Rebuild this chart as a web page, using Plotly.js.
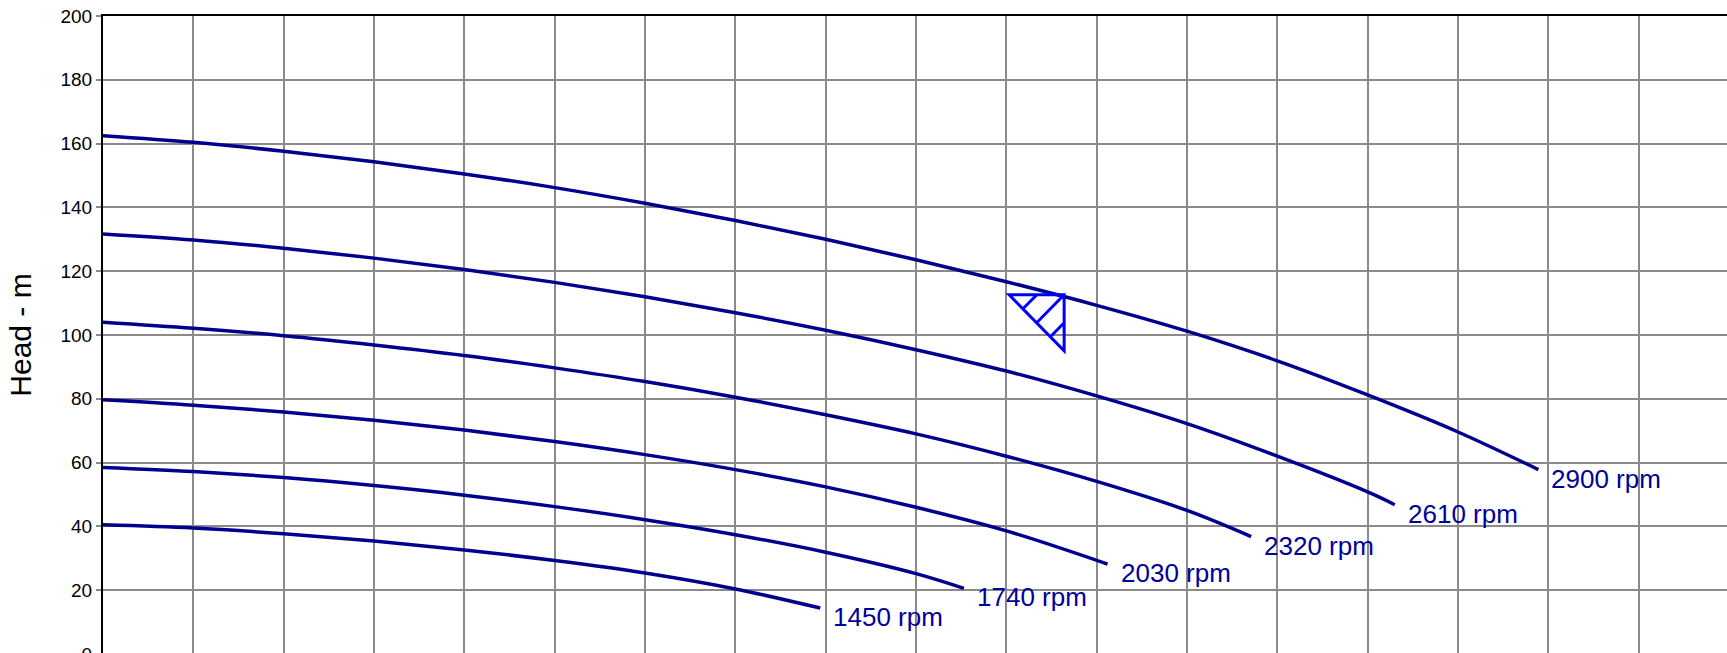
<!DOCTYPE html>
<html>
<head>
<meta charset="utf-8">
<script src="https://cdn.plot.ly/plotly-3.0.1.min.js"></script>
<style>
html,body{margin:0;padding:0;overflow:hidden;background:#ffffff;width:1727px;height:653px;}
#chart{width:1729px;height:714px;}
</style>
</head>
<body>
<div id="chart"></div>
<script>
// Speed labels
const speedLabels = ['2900 rpm', '2610 rpm', '2320 rpm', '2030 rpm', '1740 rpm', '1450 rpm'];

// Flow (grid units) and head (m)
const flow2900 = [0, 1, 2, 3, 4, 5, 6, 7, 8, 9, 10, 11, 12, 13, 14, 15, 15.89];
const head2900 = [162.5, 160.4, 157.6, 154.3, 150.5, 146.2, 141.3, 135.9, 130.0, 123.6, 116.7, 109.3, 101.2, 91.9, 81.2, 69.6, 57.8];

const flow2610 = [0, 1, 2, 3, 4, 5, 6, 7, 8, 9, 10, 11, 12, 13, 14, 14.3];
const head2610 = [131.7, 129.8, 127.2, 124.1, 120.5, 116.5, 112.0, 107.0, 101.5, 95.4, 88.7, 80.9, 72.2, 62.0, 50.8, 46.8];

const flow2320 = [0, 1, 2, 3, 4, 5, 6, 7, 8, 9, 10, 11, 12, 12.71];
const head2320 = [104.0, 102.1, 99.8, 96.9, 93.6, 89.7, 85.4, 80.5, 75.0, 69.0, 62.0, 54.1, 45.0, 36.8];

const flow2030 = [0, 1, 2, 3, 4, 5, 6, 7, 8, 9, 10, 11.12];
const head2030 = [79.7, 78.0, 75.9, 73.3, 70.2, 66.6, 62.5, 57.8, 52.4, 46.0, 38.6, 28.2];

const flow1740 = [0, 1, 2, 3, 4, 5, 6, 7, 8, 9, 9.53];
const head1740 = [58.5, 57.2, 55.3, 52.8, 49.8, 46.2, 42.1, 37.4, 31.9, 25.2, 20.6];

const flow1450 = [0, 1, 2, 3, 4, 5, 6, 7, 7.94];
const head1450 = [40.5, 39.5, 37.7, 35.4, 32.6, 29.3, 25.4, 20.4, 14.4];

// Duty point (apex of the triangle symbol)
const dutyFlow = [10.64];
const dutyHead = [112.6];

// Axis ticks
const yTickVals = [0, 20, 40, 60, 80, 100, 120, 140, 160, 180, 200];

const flows = [flow2900, flow2610, flow2320, flow2030, flow1740, flow1450];
const heads = [head2900, head2610, head2320, head2030, head1740, head1450];

const curveColor = '#00008f';
const labelColor = '#000099';
const dutyColor = '#0000ff';

const traces = flows.map((f, i) => ({
  type: 'scatter',
  mode: 'lines',
  x: f,
  y: heads[i],
  name: speedLabels[i],
  line: {color: curveColor, width: 3.5, shape: 'spline', smoothing: 1},
  hoverinfo: 'x+y+name'
}));

const annotations = flows.map((f, i) => ({
  x: f[f.length - 1],
  y: heads[i][heads[i].length - 1],
  xref: 'x', yref: 'y',
  text: speedLabels[i],
  showarrow: false,
  xanchor: 'left', yanchor: 'middle',
  xshift: 11, yshift: -9,
  font: {family: 'Liberation Sans, Arial, sans-serif', size: 26, color: labelColor}
}));

const shapes = [{
  type: 'path',
  xref: 'x', yref: 'y',
  xsizemode: 'pixel', ysizemode: 'pixel',
  xanchor: dutyFlow[0], yanchor: dutyHead[0],
  path: 'M-55,0 L0,0 L0,-56 Z M-41.25,-14 L-27.25,0 M-27.5,-28 L0,0 M-13.75,-42 L0,-28',
  line: {color: dutyColor, width: 3},
  layer: 'above'
}];

const layout = {
  width: 1729,
  height: 714,
  margin: {l: 103, r: 0, t: 16, b: 60, pad: 0},
  paper_bgcolor: '#ffffff',
  plot_bgcolor: '#ffffff',
  showlegend: false,
  font: {family: 'Liberation Sans, Arial, sans-serif', color: '#000000'},
  xaxis: {
    range: [0, 18],
    dtick: 1,
    showgrid: true,
    gridcolor: '#8a8a8a',
    gridwidth: 2,
    showline: true,
    mirror: true,
    linecolor: '#000000',
    linewidth: 2,
    zeroline: false,
    ticks: '',
    showticklabels: false
  },
  yaxis: {
    range: [0, 200],
    tickvals: yTickVals,
    showgrid: true,
    gridcolor: '#8a8a8a',
    gridwidth: 2,
    showline: true,
    linecolor: '#000000',
    linewidth: 2,
    zeroline: false,
    ticks: 'outside',
    ticklen: 5,
    tickwidth: 2,
    tickcolor: '#8a8a8a',
    tickfont: {size: 19, color: '#000000'},
    title: {text: 'Head - m', font: {size: 30, color: '#000000'}, standoff: 20}
  },
  annotations: annotations,
  shapes: shapes
};

Plotly.newPlot('chart', traces, layout, {displayModeBar: false});
</script>
</body>
</html>
